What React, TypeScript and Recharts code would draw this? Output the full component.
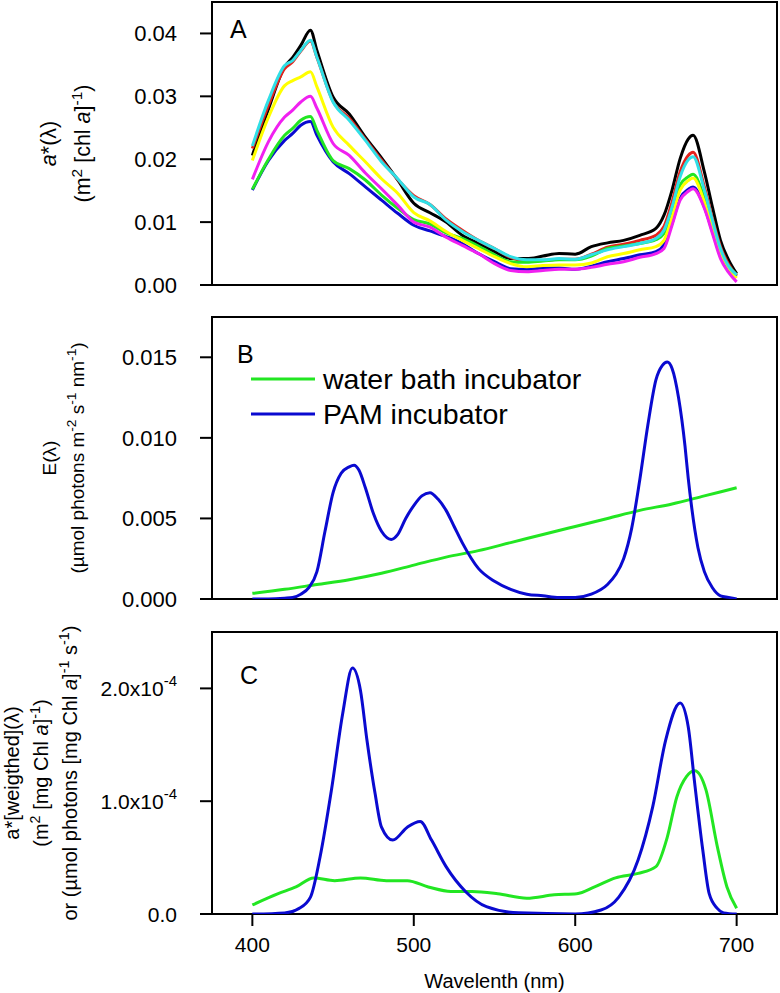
import React from 'react';
import { LineChart, Line, XAxis, YAxis, ReferenceArea, Legend } from 'recharts';

const FONT = '"Liberation Sans", Arial, sans-serif';

// ---- panel A: chl-specific absorption spectra ----
const WL_A = [400, 410, 420, 425, 430, 436, 440, 450, 460, 470, 480, 490, 500, 510, 520, 530, 540, 550, 560, 570, 580, 590, 600, 610, 620, 630, 640, 650, 655, 660, 665, 670, 673, 680, 685, 690, 695, 700];
const A_BLACK = [0.0206, 0.0280, 0.0347, 0.0362, 0.0381, 0.0405, 0.0373, 0.0299, 0.0272, 0.0235, 0.0202, 0.0167, 0.0130, 0.0115, 0.0100, 0.0079, 0.0066, 0.0053, 0.0042, 0.0042, 0.0046, 0.0050, 0.0049, 0.0061, 0.0067, 0.0071, 0.0079, 0.0090, 0.0111, 0.0151, 0.0201, 0.0232, 0.0238, 0.0180, 0.0124, 0.0071, 0.0040, 0.0018];
const A_RED = [0.0217, 0.0286, 0.0344, 0.0355, 0.0372, 0.0388, 0.0362, 0.0292, 0.0265, 0.0232, 0.0199, 0.0168, 0.0142, 0.0128, 0.0105, 0.0087, 0.0071, 0.0058, 0.0044, 0.0038, 0.0039, 0.0041, 0.0041, 0.0049, 0.0060, 0.0065, 0.0071, 0.0079, 0.0093, 0.0132, 0.0180, 0.0206, 0.0211, 0.0156, 0.0106, 0.0061, 0.0033, 0.0015];
const A_CYAN = [0.0221, 0.0294, 0.0349, 0.0357, 0.0373, 0.0389, 0.0362, 0.0291, 0.0262, 0.0230, 0.0196, 0.0169, 0.0140, 0.0128, 0.0103, 0.0085, 0.0071, 0.0058, 0.0045, 0.0040, 0.0040, 0.0042, 0.0041, 0.0048, 0.0056, 0.0061, 0.0066, 0.0074, 0.0087, 0.0124, 0.0172, 0.0199, 0.0204, 0.0151, 0.0103, 0.0058, 0.0030, 0.0016];
const A_YELLOW = [0.0198, 0.0267, 0.0317, 0.0325, 0.0331, 0.0339, 0.0315, 0.0251, 0.0222, 0.0196, 0.0169, 0.0146, 0.0115, 0.0102, 0.0085, 0.0071, 0.0058, 0.0045, 0.0034, 0.0029, 0.0031, 0.0032, 0.0032, 0.0035, 0.0045, 0.0050, 0.0056, 0.0061, 0.0071, 0.0108, 0.0151, 0.0166, 0.0170, 0.0132, 0.0091, 0.0051, 0.0027, 0.0011];
const A_MAGENTA = [0.0168, 0.0228, 0.0267, 0.0278, 0.0291, 0.0300, 0.0281, 0.0225, 0.0206, 0.0178, 0.0153, 0.0127, 0.0100, 0.0092, 0.0076, 0.0063, 0.0050, 0.0034, 0.0023, 0.0021, 0.0023, 0.0025, 0.0025, 0.0028, 0.0033, 0.0037, 0.0044, 0.0050, 0.0058, 0.0095, 0.0135, 0.0149, 0.0153, 0.0122, 0.0082, 0.0042, 0.0020, 0.0005];
const A_GREEN = [0.0152, 0.0200, 0.0238, 0.0249, 0.0262, 0.0268, 0.0246, 0.0198, 0.0185, 0.0167, 0.0143, 0.0122, 0.0104, 0.0097, 0.0083, 0.0074, 0.0062, 0.0048, 0.0037, 0.0036, 0.0038, 0.0040, 0.0040, 0.0046, 0.0058, 0.0062, 0.0066, 0.0072, 0.0082, 0.0119, 0.0159, 0.0172, 0.0176, 0.0138, 0.0095, 0.0055, 0.0030, 0.0016];
const A_BLUE = [0.0151, 0.0198, 0.0230, 0.0241, 0.0254, 0.0260, 0.0238, 0.0196, 0.0177, 0.0156, 0.0135, 0.0114, 0.0095, 0.0086, 0.0077, 0.0066, 0.0050, 0.0037, 0.0026, 0.0025, 0.0027, 0.0027, 0.0025, 0.0030, 0.0037, 0.0042, 0.0048, 0.0053, 0.0064, 0.0098, 0.0138, 0.0152, 0.0156, 0.0124, 0.0085, 0.0046, 0.0024, 0.0013];

// ---- panel B: irradiance spectra ----
const WATER_WL = [400, 420, 440, 460, 480, 500, 520, 540, 560, 580, 600, 620, 640, 660, 680, 700];
const WATER_E = [0.00035, 0.0006, 0.0009, 0.0012, 0.0016, 0.0021, 0.0026, 0.0030, 0.0035, 0.0040, 0.0045, 0.0050, 0.0055, 0.0059, 0.0064, 0.0069];
const PAM_WL = [400, 410, 420, 425, 430, 435, 440, 445, 450, 455, 460, 463, 466, 470, 475, 480, 486, 490, 495, 500, 505, 510, 515, 520, 525, 530, 540, 550, 560, 570, 580, 590, 600, 610, 620, 625, 630, 635, 640, 645, 650, 654, 657, 660, 664, 668, 670, 672, 676, 680, 685, 690, 695, 700];
const PAM_E = [0, 0, 0.00005, 0.0001, 0.0003, 0.0007, 0.0017, 0.0042, 0.0066, 0.0078, 0.0082, 0.0083, 0.0080, 0.0069, 0.0053, 0.0042, 0.0037, 0.0040, 0.0050, 0.0058, 0.0064, 0.0066, 0.0062, 0.0055, 0.0045, 0.0035, 0.0019, 0.0011, 0.0006, 0.0003, 0.0002, 0.0001, 0.0001, 0.0003, 0.0009, 0.0015, 0.0025, 0.0044, 0.0074, 0.0108, 0.0136, 0.0145, 0.0147, 0.0143, 0.0125, 0.0095, 0.0075, 0.0058, 0.0032, 0.0017, 0.0007, 0.0002, 0.0001, 0];

// ---- panel C: weighted absorption ----
const WATER_C_WL = [400, 416, 427, 438, 451, 467, 483, 496, 509, 523, 536, 552, 570, 587, 601, 612, 625, 639, 650, 657, 663, 669, 674, 681, 688, 694, 700];
const WATER_C = [0.08e-4, 0.18e-4, 0.24e-4, 0.32e-4, 0.295e-4, 0.32e-4, 0.295e-4, 0.295e-4, 0.24e-4, 0.20e-4, 0.20e-4, 0.18e-4, 0.14e-4, 0.17e-4, 0.18e-4, 0.24e-4, 0.32e-4, 0.36e-4, 0.42e-4, 0.68e-4, 1.04e-4, 1.22e-4, 1.27e-4, 1.10e-4, 0.60e-4, 0.24e-4, 0.05e-4];
const PAM_C_WL = [400, 420, 429, 436, 442, 449, 456, 462, 467, 471, 476, 480, 487, 496, 504, 511, 520, 532, 545, 565, 600, 616, 627, 639, 648, 656, 665, 670, 674, 679, 683, 688, 692, 700];
const PAM_C = [0, 0.01e-4, 0.05e-4, 0.15e-4, 0.51e-4, 1.10e-4, 1.78e-4, 2.18e-4, 1.98e-4, 1.54e-4, 1.07e-4, 0.77e-4, 0.655e-4, 0.77e-4, 0.82e-4, 0.655e-4, 0.42e-4, 0.20e-4, 0.065e-4, 0.01e-4, 0, 0.035e-4, 0.15e-4, 0.48e-4, 0.95e-4, 1.54e-4, 1.87e-4, 1.66e-4, 1.16e-4, 0.57e-4, 0.18e-4, 0.05e-4, 0.01e-4, 0];

const X_TICKS = [400, 500, 600, 700];
const A_TICKS = [0, 0.01, 0.02, 0.03, 0.04];
const B_TICKS = [0, 0.005, 0.01, 0.015];
const C_TICKS = [0, 1e-4, 2e-4];

const X_MIN = 375;
const X_MAX = 725;
const A_MAX = 0.045;
const B_MAX = 0.0175;
const C_MAX = 2.5e-4;

const C_GREEN = '#22e622';
const C_BLUE = '#0a0ad0';

const A_SERIES = [
  { key: 'black', values: A_BLACK, color: '#000000' },
  { key: 'red', values: A_RED, color: '#e4221c' },
  { key: 'blue', values: A_BLUE, color: '#0a0ad0' },
  { key: 'green', values: A_GREEN, color: '#22e622' },
  { key: 'yellow', values: A_YELLOW, color: '#ffff00' },
  { key: 'magenta', values: A_MAGENTA, color: '#f020f0' },
  { key: 'cyan', values: A_CYAN, color: '#30dfe6' },
];

const aRows = WL_A.map((wl, i) => {
  const row: Record<string, number> = { wl };
  A_SERIES.forEach((s) => { row[s.key] = s.values[i]; });
  return row;
});
const toPts = (wls: number[], vals: number[]) => wls.map((wl, i) => ({ wl, v: vals[i] }));
const waterB = toPts(WATER_WL, WATER_E);
const pamB = toPts(PAM_WL, PAM_E);
const waterC = toPts(WATER_C_WL, WATER_C);
const pamC = toPts(PAM_C_WL, PAM_C);

type Part = { t: string; sup?: boolean; it?: boolean };
type TitleLine = { x: number; parts: Part[] };

const TITLE_A: TitleLine[] = [
  { x: 56, parts: [{ t: 'a', it: true }, { t: '*(λ)' }] },
  { x: 90, parts: [{ t: '(m' }, { t: '2', sup: true }, { t: ' [chl ' }, { t: 'a', it: true }, { t: ']' }, { t: '-1', sup: true }, { t: ')' }] },
];
const TITLE_B: TitleLine[] = [
  { x: 56, parts: [{ t: 'E(λ)' }] },
  { x: 84, parts: [{ t: '(µmol photons m' }, { t: '-2', sup: true }, { t: ' s' }, { t: '-1', sup: true }, { t: ' nm' }, { t: '-1', sup: true }, { t: ')' }] },
];
const TITLE_C: TitleLine[] = [
  { x: 19, parts: [{ t: 'a*[weigthed](λ)' }] },
  { x: 48, parts: [{ t: '(m' }, { t: '2', sup: true }, { t: ' [mg Chl ' }, { t: 'a', it: true }, { t: ']' }, { t: '-1', sup: true }, { t: ')' }] },
  { x: 77, parts: [{ t: 'or (µmol photons [mg Chl ' }, { t: 'a', it: true }, { t: ']' }, { t: '-1', sup: true }, { t: ' s' }, { t: '-1', sup: true }, { t: ')' }] },
];

const yTitle = (lines: TitleLine[], fs: number) => (props: any) => {
  const vb = props.viewBox || {};
  const cy = (vb.y ?? 0) + (vb.height ?? 0) / 2;
  return (
    <g>
      {lines.map((ln, i) => {
        let shift = 0;
        return (
          <text key={i} transform={`translate(${ln.x},${cy}) rotate(-90)`} textAnchor="middle"
            fontSize={fs} fontFamily={FONT} fill="#000" style={{ whiteSpace: 'pre' }}>
            {ln.parts.map((p, j) => {
              const target = p.sup ? -8 : 0;
              const dy = target - shift;
              shift = target;
              return (
                <tspan key={j} dy={dy} fontSize={p.sup ? fs * 0.72 : fs} fontStyle={p.it ? 'italic' : 'normal'}>{p.t}</tspan>
              );
            })}
          </text>
        );
      })}
    </g>
  );
};

const SciTick = (props: any) => {
  const { x, y, payload } = props;
  const v = payload.value;
  if (v === 0) {
    return <text x={x} y={y} dy={7.5} textAnchor="end" fontSize={21} fontFamily={FONT} fill="#000">0.0</text>;
  }
  return (
    <text x={x} y={y} dy={7.5} textAnchor="end" fontSize={21} fontFamily={FONT} fill="#000">
      {(v / 1e-4).toFixed(1)}x10<tspan dy={-10} fontSize={15}>-4</tspan>
    </text>
  );
};

const LegendB = () => (
  <svg width={620} height={140}>
    <line x1={251} y1={79} x2={315} y2={79} stroke={C_GREEN} strokeWidth={3} />
    <text x={323} y={89} fontSize={28.5} fontFamily={FONT} fill="#000">water bath incubator</text>
    <line x1={251} y1={114} x2={315} y2={114} stroke={C_BLUE} strokeWidth={3} />
    <text x={323} y={124} fontSize={28.5} fontFamily={FONT} fill="#000">PAM incubator</text>
  </svg>
);

const tickLine = { stroke: '#000', strokeWidth: 2 };
const tickText = { fill: '#000', fontSize: 22, fontFamily: FONT };

const frame = (ymax: number, letter: string, dx: number, dy: number) => (
  <ReferenceArea x1={X_MIN} x2={X_MAX} y1={0} y2={ymax} fill="none" fillOpacity={0}
    stroke="#000" strokeWidth={2} ifOverflow="visible"
    label={{ value: letter, position: 'insideTopLeft', offset: dx, dy: dy, fontSize: 25, fontFamily: FONT, fill: '#000' }} />
);

const App: React.FC = () => {
  return (
    <div style={{ position: 'absolute', left: 0, top: 0, width: 780, height: 993, background: '#fff' }}>
      {/* A */}
      <div style={{ position: 'absolute', left: 0, top: 0 }}>
        <LineChart width={780} height={300} data={aRows} margin={{ top: 2, right: 3, bottom: 0, left: 0 }}>
          <XAxis dataKey="wl" type="number" domain={[X_MIN, X_MAX]} ticks={X_TICKS} allowDataOverflow
            height={15} tickSize={12} axisLine={false} tickLine={tickLine} tick={false} />
          <YAxis type="number" domain={[0, A_MAX]} ticks={A_TICKS} allowDataOverflow interval={0}
            width={212} tickSize={12} tickMargin={23} axisLine={false} tickLine={tickLine}
            tick={tickText} tickFormatter={(v: number) => v.toFixed(2)}
            label={{ content: yTitle(TITLE_A, 21.5) }} />
          {frame(A_MAX, 'A', 18, 0)}
          {A_SERIES.map((s) => (
            <Line key={s.key} type="monotone" dataKey={s.key} stroke={s.color} strokeWidth={3}
              dot={false} activeDot={false} isAnimationActive={false} />
          ))}
        </LineChart>
      </div>

      {/* B */}
      <div style={{ position: 'absolute', left: 0, top: 300 }}>
        <LineChart width={780} height={312} margin={{ top: 17, right: 3, bottom: 0, left: 0 }}>
          <XAxis dataKey="wl" type="number" domain={[X_MIN, X_MAX]} ticks={X_TICKS} allowDataOverflow
            height={13} tickSize={12} axisLine={false} tickLine={tickLine} tick={false} />
          <YAxis type="number" domain={[0, B_MAX]} ticks={B_TICKS} allowDataOverflow interval={0}
            width={212} tickSize={12} tickMargin={23} axisLine={false} tickLine={tickLine}
            tick={tickText} tickFormatter={(v: number) => v.toFixed(3)}
            label={{ content: yTitle(TITLE_B, 19) }} />
          {frame(B_MAX, 'B', 25, 3)}
          <Line data={waterB} type="monotone" dataKey="v" name="water bath incubator" stroke={C_GREEN}
            strokeWidth={3} dot={false} activeDot={false} isAnimationActive={false} />
          <Line data={pamB} type="monotone" dataKey="v" name="PAM incubator" stroke={C_BLUE}
            strokeWidth={3} dot={false} activeDot={false} isAnimationActive={false} />
          <Legend layout="vertical" align="center" verticalAlign="middle" content={<LegendB />}
            wrapperStyle={{ left: 0, top: 0, width: 620, height: 140 }} />
        </LineChart>
      </div>

      {/* C */}
      <div style={{ position: 'absolute', left: 0, top: 612 }}>
        <LineChart width={780} height={381} margin={{ top: 20, right: 3, bottom: 0, left: 0 }}>
          <XAxis dataKey="wl" type="number" domain={[X_MIN, X_MAX]} ticks={X_TICKS} allowDataOverflow
            height={79} tickSize={12} tickMargin={11} axisLine={false} tickLine={tickLine}
            tick={{ fill: '#000', fontSize: 21, fontFamily: FONT }}
            label={{ value: 'Wavelenth (nm)', position: 'insideBottom', offset: 5, fill: '#000', fontSize: 20, fontFamily: FONT }} />
          <YAxis type="number" domain={[0, C_MAX]} ticks={C_TICKS} allowDataOverflow interval={0}
            width={212} tickSize={12} tickMargin={23} axisLine={false} tickLine={tickLine}
            tick={<SciTick />} label={{ content: yTitle(TITLE_C, 20) }} />
          {frame(C_MAX, 'C', 28, 6)}
          <Line data={waterC} type="monotone" dataKey="v" stroke={C_GREEN} strokeWidth={3}
            dot={false} activeDot={false} isAnimationActive={false} />
          <Line data={pamC} type="monotone" dataKey="v" stroke={C_BLUE} strokeWidth={3}
            dot={false} activeDot={false} isAnimationActive={false} />
        </LineChart>
      </div>
    </div>
  );
};

export default App;
